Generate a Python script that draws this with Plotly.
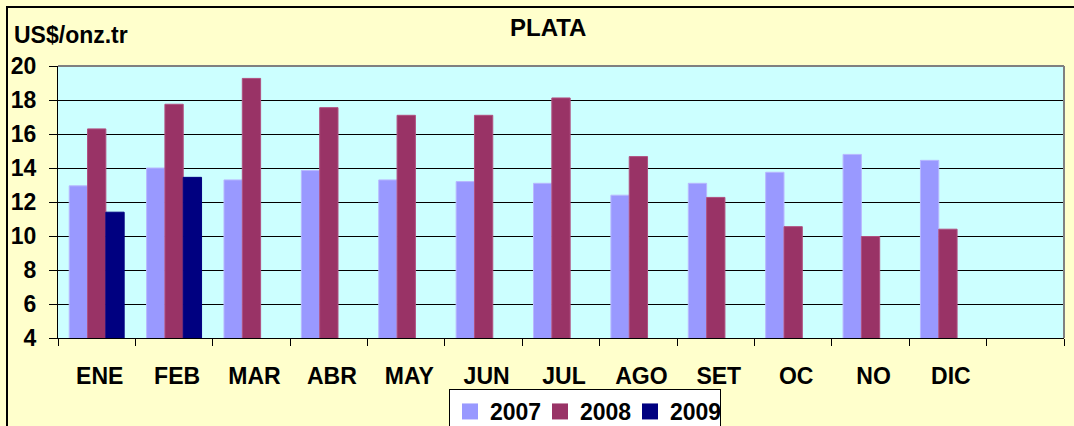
import plotly.graph_objects as go

months = ["ENE", "FEB", "MAR", "ABR", "MAY", "JUN", "JUL", "AGO", "SET", "OC", "NO", "DIC", " "]
data_months = months[:12]
v2007 = [12.95, 14.0, 13.3, 13.85, 13.3, 13.2, 13.1, 12.4, 13.1, 13.75, 14.8, 14.45]
v2008 = [16.3, 17.75, 19.27, 17.55, 17.1, 17.1, 18.12, 14.67, 12.27, 10.55, 9.97, 10.4]
v2009 = [11.4, 13.45]
years = ["2007", "2008", "2009"]
colors = ["#9999FF", "#993366", "#000080"]
edge = ["#B8B8FF", "#B05080", "#000080"]

FONT = "Liberation Sans, Arial, sans-serif"
FS = 23

fig = go.Figure()
for name, vals, c, e in zip(years, [v2007, v2008, v2009], colors, edge):
    fig.add_trace(go.Bar(
        x=data_months[:len(vals)], y=vals, name=name, showlegend=False,
        marker=dict(color=c, line=dict(color=e, width=1)),
    ))
# legend entries with larger square swatches
for name, c in zip(years, colors):
    fig.add_trace(go.Scatter(
        x=[None], y=[None], mode="markers", name=name,
        marker=dict(symbol="square", size=16, color=c),
    ))

fig.update_layout(
    width=1074, height=426,
    margin=dict(l=58, r=10, t=66, b=88, autoexpand=False),
    paper_bgcolor="#FFFFCC",
    plot_bgcolor="#CCFFFF",
    barmode="group",
    bargap=0.29,
    bargroupgap=0,
    showlegend=True,
    legend=dict(
        orientation="h", x=(449 - 58) / 1006, y=-(389 - 338) / 272,
        xanchor="left", yanchor="top",
        bgcolor="#FFFFFF", bordercolor="#000000", borderwidth=1,
        font=dict(family=FONT, size=FS, color="#000000", weight="bold"),
        itemwidth=30, entrywidth=45, entrywidthmode="pixels",
        tracegroupgap=0,
    ),
    xaxis=dict(
        type="category", categoryorder="array", categoryarray=months,
        range=[-0.5, 12.5], tickson="boundaries", ticks="outside", ticklen=7,
        tickcolor="#000000", showline=True, linecolor="#000000", linewidth=1,
        showgrid=False, ticklabelstandoff=17, ticklabelshift=3, automargin=False,
        tickfont=dict(family=FONT, size=FS, color="#000000", weight="bold"),
    ),
    yaxis=dict(
        range=[4, 20], dtick=2, tick0=4, ticks="outside", ticklen=8,
        tickcolor="#000000", showline=True, linecolor="#000000", linewidth=1,
        showgrid=True, gridcolor="#000000", gridwidth=1, zeroline=False,
        ticklabelstandoff=8, automargin=False,
        tickfont=dict(family=FONT, size=FS, color="#000000", weight="bold"),
    ),
    annotations=[
        dict(text="PLATA", xref="paper", yref="paper", x=0.487, y=1.0,
             yshift=39, xanchor="center", yanchor="middle", showarrow=False,
             font=dict(family=FONT, size=24, color="#000000", weight="bold")),
        dict(text="US$/onz.tr", xref="paper", yref="paper", x=-0.046, y=1.0,
             yshift=31, xanchor="left", yanchor="middle", showarrow=False,
             font=dict(family=FONT, size=FS, color="#000000", weight="bold")),
    ],
    shapes=[
        dict(type="line", xref="paper", yref="paper", x0=0, x1=1, y0=1, y1=1,
             line=dict(color="#808080", width=2)),
        dict(type="line", xref="paper", yref="paper", x0=1, x1=1, y0=0, y1=1,
             line=dict(color="#808080", width=2)),
        dict(type="rect", xref="paper", yref="paper",
             x0=(7 - 58) / 1006, x1=(1090 - 58) / 1006,
             y0=-(440 - 338) / 272, y1=(338 - 7) / 272,
             line=dict(color="#000000", width=2), fillcolor="rgba(0,0,0,0)",
             layer="above"),
    ],
)

fig.write_html("out.html", config={"displayModeBar": False},
               post_script="document.body.style.margin='0';")
